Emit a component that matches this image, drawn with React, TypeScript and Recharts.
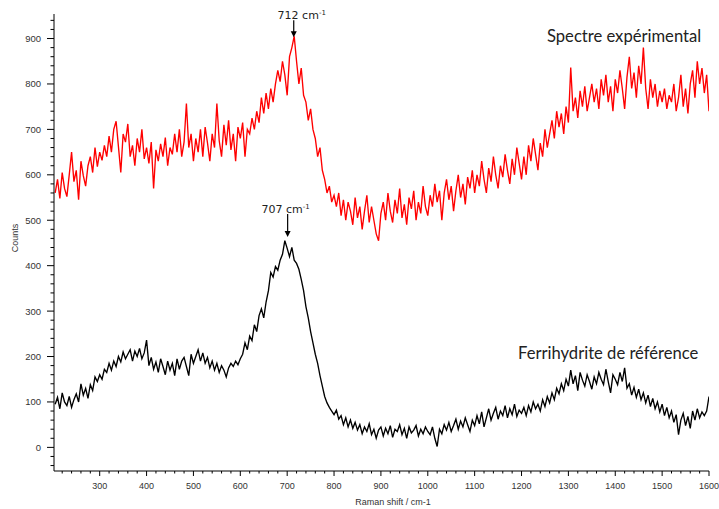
import React from 'react';
import { LineChart, Line, XAxis, YAxis, ReferenceDot } from 'recharts';

// Raman shift grid: one sample every 5 cm-1, from 205 to 1600
const SHIFT_START = 205;
const SHIFT_STEP = 5;

const experimental: number[] = [
  560, 590, 548, 605, 570, 552, 600, 650, 585, 610, 545, 630, 598, 575, 620, 640, 605, 660, 618, 650,
  632, 665, 640, 685, 650, 700, 718, 662, 605, 690, 672, 712, 640, 665, 620, 680, 650, 700, 635, 660,
  625, 672, 570, 655, 630, 668, 640, 682, 620, 660, 645, 690, 650, 700, 640, 672, 757, 660, 690, 630,
  680, 650, 700, 640, 705, 670, 630, 690, 660, 757, 675, 640, 710, 665, 720, 655, 690, 630, 705, 680,
  715, 640, 700, 690, 725, 700, 740, 715, 770, 735, 780, 745, 790, 760, 800, 830, 805, 850, 820, 775,
  860, 880, 905, 850, 800, 835, 775, 760, 720, 745, 700, 680, 640, 660, 610, 590, 560, 575, 540, 555,
  530, 560, 510, 545, 500, 540, 520, 490, 550, 505, 530, 480, 520, 555, 495, 530, 500, 470, 455, 515,
  540, 500, 560, 520, 495, 545, 515, 570, 505, 535, 490, 550, 525, 565, 500, 540, 515, 575, 530, 510,
  555, 530, 580, 540, 565, 500, 560, 590, 545, 575, 520, 565, 600, 550, 580, 535, 595, 570, 610, 560,
  600, 575, 630, 590, 560, 615, 585, 640, 600, 570, 620, 595, 645, 610, 580, 635, 600, 660, 625, 590,
  640, 600, 665, 630, 680, 645, 610, 670, 640, 700, 660, 690, 720, 680, 740, 705, 735, 690, 750, 715,
  836, 740, 770, 725, 785, 750, 795, 740, 770, 800, 760, 790, 745, 810, 775, 820, 760, 795, 740, 810,
  780, 830, 790, 745, 815, 860, 790, 825, 770, 840, 800, 880, 790, 745, 810, 770, 800, 750, 785, 760,
  790, 745, 775, 760, 800, 740, 770, 820, 750, 790, 735, 800, 830, 770, 850, 800, 835, 780, 820, 740,
];

// Reference ferrihydrite spectrum (black)
const reference: number[] = [
  95, 110, 85, 120, 100, 92, 112, 88, 105, 118, 100, 140, 115, 130, 108, 138, 125, 155, 145, 160,
  150, 172, 165, 185, 170, 190, 178, 200, 188, 210, 195, 205, 215, 190, 212, 200, 218, 195, 208, 236,
  180, 198, 172, 188, 165, 195, 178, 160, 190, 170, 185, 158, 195, 172, 190, 198, 178, 158, 205, 185,
  200, 215, 190, 208, 185, 198, 175, 190, 170, 185, 165, 180, 170, 155, 175, 185, 178, 190, 182, 195,
  205, 230, 215, 245, 235, 270, 255, 290, 305, 285, 320, 345, 385, 375, 398, 390, 412, 425, 455, 438,
  420, 440, 412, 405, 392, 370, 345, 310, 285, 255, 230, 205, 185, 158, 135, 112, 98, 88, 80, 72,
  82, 62, 70, 50, 65, 45, 60, 42, 55, 38, 50, 30, 45, 35, 52, 28, 40, 20, 38, 45,
  25, 42, 30, 48, 22, 40, 35, 50, 28, 42, 20, 45, 32, 38, 48, 25, 40, 30, 45, 35,
  28, 45, 20, 2, 40, 30, 50, 38, 55, 35, 48, 62, 40, 58, 45, 65, 50, 35, 60, 48,
  70, 52, 78, 45, 65, 85, 60, 75, 88, 62, 80, 70, 92, 65, 85, 72, 95, 68, 82, 75,
  88, 70, 92, 78, 100, 85, 95, 80, 105, 90, 112, 98, 120, 105, 130, 118, 140, 125, 150, 135,
  170, 140, 158, 125, 165, 148, 135, 160, 145, 128, 155, 140, 165, 150, 138, 172, 145, 120, 160, 150,
  138, 165, 145, 175, 130, 140, 115, 132, 110, 128, 105, 120, 98, 115, 90, 108, 85, 100, 78, 95,
  70, 88, 65, 80, 55, 72, 28, 60, 75, 48, 68, 42, 80, 60, 85, 65, 78, 70, 80, 112,
];

const xLabels = [300, 400, 500, 600, 700, 800, 900, 1000, 1100, 1200, 1300, 1400, 1500, 1600];
const yLabels = [0, 100, 200, 300, 400, 500, 600, 700, 800, 900];

const data = experimental.map((v, i) => ({
  shift: SHIFT_START + i * SHIFT_STEP,
  exp: v,
  ref: reference[i],
}));

// minor ticks every 20 units, labels only on the hundreds
const xTicks: number[] = [];
for (let t = 220; t <= 1600; t += 20) xTicks.push(t);
const yTicks: number[] = [];
for (let t = -40; t <= 940; t += 20) yTicks.push(t);

const tickFont = '"Liberation Sans", Arial, sans-serif';

const XTick = (props: any) => {
  const { x, y, payload } = props;
  const major = xLabels.includes(payload.value);
  return (
    <g>
      <line x1={x} y1={y} x2={x} y2={y + (major ? 5 : 2.5)} stroke="#000" strokeWidth={1} />
      {major && (
        <text x={x} y={y + 18} textAnchor="middle" fontSize={9} fill="#333" fontFamily={tickFont}>
          {payload.value}
        </text>
      )}
    </g>
  );
};

const YTick = (props: any) => {
  const { x, y, payload } = props;
  const major = yLabels.includes(payload.value);
  return (
    <g>
      <line x1={x - (major ? 7 : 3.5)} y1={y} x2={x} y2={y} stroke="#000" strokeWidth={1} />
      {major && (
        <text x={x - 13} y={y + 3.5} textAnchor="end" fontSize={9.5} fill="#333" fontFamily={tickFont}>
          {payload.value}
        </text>
      )}
    </g>
  );
};

// arrow + peak label, anchored on the peak through ReferenceDot
const peakMarker = (label: string, textDx: number, textDy: number) => (props: any) => {
  const { cx, cy } = props;
  return (
    <g>
      <line x1={cx} y1={cy + textDy + 1} x2={cx} y2={cy - 4} stroke="#000" strokeWidth={1.2} />
      <path d={`M${cx - 3},${cy - 6} L${cx + 3},${cy - 6} L${cx},${cy} Z`} fill="#000" />
      <text x={cx + textDx} y={cy + textDy} textAnchor="middle" fontSize={11} fill="#222" fontFamily='"DejaVu Sans", sans-serif'>
        {label}
        <tspan dy={-4} fontSize={7}>-1</tspan>
      </text>
    </g>
  );
};

const App: React.FC = () => {
  return (
    <div style={{ position: 'absolute', left: 0, top: 0, width: 719, height: 509, background: '#fff' }}>
      <LineChart width={719} height={509} data={data} margin={{ top: 14, right: 10, left: 0, bottom: 0 }}>
        <XAxis
          dataKey="shift"
          type="number"
          domain={[202.5, 1600]}
          ticks={xTicks}
          interval={0}
          tickSize={0}
          tickMargin={0}
          tickLine={false}
          tick={<XTick />}
          height={38}
          axisLine={{ stroke: '#000', strokeWidth: 1 }}
          allowDataOverflow
        />
        <YAxis
          type="number"
          domain={[-52, 954]}
          ticks={yTicks}
          interval={0}
          tickSize={0}
          tickMargin={0}
          tickLine={false}
          tick={<YTick />}
          width={54}
          axisLine={{ stroke: '#000', strokeWidth: 1 }}
          allowDataOverflow
        />
        <Line type="linear" dataKey="exp" stroke="#ff0000" strokeWidth={1.35} dot={false} isAnimationActive={false} />
        <Line type="linear" dataKey="ref" stroke="#000000" strokeWidth={1.35} dot={false} isAnimationActive={false} />
        <ReferenceDot x={714} y={903} r={0} ifOverflow="visible" shape={peakMarker('712 cm', 8, -18)} />
        <ReferenceDot x={701} y={463} r={0} ifOverflow="visible" shape={peakMarker('707 cm', -2, -24)} />
      </LineChart>
      <svg width={719} height={509} style={{ position: 'absolute', left: 0, top: 0, pointerEvents: 'none' }}>
        <text x={16} y={238} transform="rotate(-90 16 238)" textAnchor="middle" dominantBaseline="middle" fontSize={9} fill="#333" fontFamily={tickFont}>
          Counts
        </text>
        <text x={393} y={505} textAnchor="middle" fontSize={9} fill="#333" fontFamily={tickFont}>
          Raman shift / cm-1
        </text>
        <text x={547} y={42} fontSize={16.6} fill="#222" fontFamily="Lato, sans-serif">
          Spectre expérimental
        </text>
        <text x={518} y={359} fontSize={16.6} fill="#222" fontFamily="Lato, sans-serif">
          Ferrihydrite de référence
        </text>
      </svg>
    </div>
  );
};

export default App;
